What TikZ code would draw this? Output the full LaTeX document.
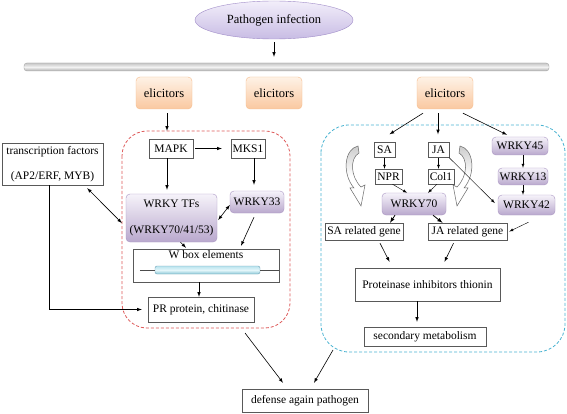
\documentclass[tikz,border=0pt]{standalone}
\usepackage{fontspec}
\setmainfont{Liberation Serif}
\usepackage{tikz}
\usetikzlibrary{calc,shapes,arrows}

\definecolor{redline}{RGB}{222,90,90}
\definecolor{blueline}{RGB}{75,180,210}
\definecolor{wrkytop}{RGB}{246,243,250}
\definecolor{wrkybot}{RGB}{185,168,205}
\definecolor{wrkyedge}{RGB}{170,150,195}
\definecolor{elictop}{RGB}{254,242,230}
\definecolor{elicbot}{RGB}{250,200,160}
\definecolor{elicedge}{RGB}{246,188,140}
\definecolor{inftop}{RGB}{242,238,250}
\definecolor{infbot}{RGB}{200,188,228}
\definecolor{infedge}{RGB}{160,140,200}
\definecolor{cyltop}{RGB}{185,228,238}
\definecolor{cylmid}{RGB}{228,246,250}
\definecolor{cylbot}{RGB}{140,200,215}

% hollow bent arrow next to the SA / JA branches
\newcommand{\turnarrow}{%
  \path[draw=black!60,line width=0.5pt,top color=gray!40,bottom color=white,middle color=white]
    (0,0) .. controls (-14,3) and (-16,28) .. (-4,42) -- (-8,42) -- (3,60)
    -- (7,39) -- (3,41) .. controls (-8,30) and (-8,12) .. (1,7) -- cycle;}

\begin{document}
\begin{tikzpicture}[x=1pt,y=-1pt,
    every node/.style={font=\fontsize{11.5}{13}\selectfont},
    plainbox/.style={draw=black!65,fill=white,inner sep=1pt},
    wrkybox/.style={draw=wrkyedge,rounded corners=4pt,top color=wrkytop,bottom color=wrkybot,inner sep=1pt},
    elicbox/.style={draw=elicedge,rounded corners=4pt,top color=elictop,bottom color=elicbot,minimum width=56,minimum height=32,font=\fontsize{12.5}{14}\selectfont},
    arr/.style={-latex,line width=0.6pt},
    thinarr/.style={-latex,line width=0.4pt},
    darr/.style={latex-latex,line width=0.6pt},
    zone/.style={line width=0.8pt,dash pattern=on 3pt off 2pt}]
    \path[use as bounding box,fill=white] (0,0) rectangle (567,414);

    % signal at the membrane
    \node[ellipse,draw=infedge,top color=inftop,bottom color=infbot,minimum width=158,minimum height=38,font=\fontsize{12.5}{14}\selectfont] (infect) at (274,20) {Pathogen infection};
    \node[draw=gray!70,rounded corners=3pt,top color=gray!45,bottom color=gray!65,middle color=gray!10,minimum width=525,minimum height=8,inner sep=0pt] (membrane) at (286.5,67) {};
    \draw[arr,shorten <=3pt,shorten >=6pt] (infect.south) -- (infect.south |- membrane.north);
    \node[elicbox] (elicA) at (164,93) {elicitors};
    \node[elicbox] (elicB) at (274,93) {elicitors};
    \node[elicbox] (elicC) at (445,93) {elicitors};

    % left branch
    \draw[zone,draw=redline,rounded corners=25pt] (122,131) rectangle (290,328);
    \node[plainbox,minimum width=101,minimum height=42,align=center] (tf) at (52.5,164) {transcription factors\\[12pt](AP2/ERF, MYB)};
    \node[plainbox,minimum width=44,minimum height=19] (mapk) at (171,148.5) {MAPK};
    \node[plainbox,minimum width=34,minimum height=19] (mks) at (248,148.5) {MKS1};
    \node[wrkybox,minimum width=91,minimum height=48,align=center] (wtf) at (171.5,218) {WRKY TFs\\[13pt](WRKY70/41/53)};
    \node[wrkybox,minimum width=54,minimum height=22] (w33) at (257,202) {WRKY33};
    \node[plainbox,minimum width=146,minimum height=33,label={[anchor=north,inner sep=2pt]north:W box elements}] (wbox) at (206,265.5) {};
    \node[draw=cyan!40!gray,rounded corners=2pt,top color=cyltop,bottom color=cylbot,middle color=cylmid,minimum width=105,minimum height=8,inner sep=0pt] (wcyl) at (207.5,270) {};
    \node[plainbox,minimum width=106,minimum height=25] (pr) at (201,309.5) {PR protein, chitinase};

    \draw[arr,shorten <=4pt,shorten >=8pt] ([xshift=3pt]elicA.south) -- ([xshift=3pt]elicA.south |- mapk.north);
    \draw[arr,shorten <=2pt,shorten >=9pt] (mapk) -- (mks);
    \draw[arr,shorten >=4pt] ([xshift=-4pt]mapk.south) -- ([xshift=-4pt]mapk.south |- wtf.north);
    \draw[arr,shorten >=6pt] ([xshift=6pt]mks.south) -- ([xshift=6pt]mks.south |- w33.north);
    \draw[darr] ($(tf.south east)+(-16,3)$) -- ($(wtf.west)+(-4,5)$);
    \draw[darr] ($(wtf.east)+(1,2)$) -- ($(w33.west)+(0,3)$);
    \draw[arr] ($(wtf.south)+(9,0)$) -- ($(wbox.north)+(-20,-1)$);
    \draw[arr] ($(w33.south)+(-3,4)$) -- ($(wbox.north)+(35,-3)$);
    \draw[black!70] ($(wbox.west |- wcyl)+(7,0)$) -- (wcyl.west);
    \draw[black!70] (wcyl.east) -- (wbox.east |- wcyl);
    \draw[arr] ([xshift=-2pt]pr.north |- wbox.south) -- ([xshift=-2pt]pr.north);
    \draw[arr,shorten >=6pt] ([xshift=-3.5pt]tf.south) |- (pr.west);

    % right branch
    \draw[zone,draw=blueline,rounded corners=28pt] (321,125) rectangle (565,352);
    \node[plainbox,minimum width=21,minimum height=15] (sa) at (384.5,150) {SA};
    \node[plainbox,minimum width=21,minimum height=15] (ja) at (438.5,150) {JA};
    \node[plainbox,minimum width=27,minimum height=15] (npr) at (388.5,176.5) {NPR};
    \node[plainbox,minimum width=26,minimum height=15] (col1) at (441,176.5) {Col1};
    \node[wrkybox,minimum width=64,minimum height=22] (w70) at (414,204) {WRKY70};
    \node[wrkybox,minimum width=56,minimum height=18] (w45) at (520,146) {WRKY45};
    \node[wrkybox,minimum width=50,minimum height=17] (w13) at (523,176.5) {WRKY13};
    \node[wrkybox,minimum width=57,minimum height=20] (w42) at (526.5,205) {WRKY42};
    \node[plainbox,minimum width=78,minimum height=17] (sarel) at (364,231.5) {SA related gene};
    \node[plainbox,minimum width=79,minimum height=17] (jarel) at (467.5,231.5) {JA related gene};
    \node[plainbox,minimum width=145,minimum height=33] (prot) at (427.5,284.5) {Proteinase inhibitors thionin};
    \node[plainbox,minimum width=122,minimum height=19] (sec) at (425,336.5) {secondary metabolism};

    \begin{scope}[shift={(358,146)}]
        \turnarrow
    \end{scope}
    \begin{scope}[shift={(460,146)},xscale=-1]
        \turnarrow
    \end{scope}

    \draw[arr] ($(elicC.south)+(-22,4)$) -- ($(sa.north)+(5,-8)$);
    \draw[arr] ($(elicC.south)+(-7,4)$) -- ($(ja.north)+(-0.5,-8)$);
    \draw[arr] ($(elicC.south)+(18,4)$) -- ($(w45.north)+(-13,-2)$);
    \draw[thinarr] (sa) -- (sa |- npr.north);
    \draw[thinarr] (ja) -- (ja |- col1.north);
    \draw[thinarr] ([xshift=4pt]npr.south) -- ([xshift=-7pt]w70.north);
    \draw[thinarr] ([xshift=-4pt]col1.south) -- ([xshift=14pt]w70.north);
    \draw[thinarr] (w13.north |- w45.south) -- (w13.north);
    \draw[thinarr] (w13.south) -- (w13.south |- w42.north);
    \draw[thinarr] (ja.south east) -- ([xshift=-3pt,yshift=2pt]w42.west);
    \draw[arr,thick] ([xshift=-19pt]w70.south) -- ([xshift=26pt]sarel.north);
    \draw[arr,thick] ([xshift=19pt]w70.south) -- ([xshift=-25pt]jarel.north);
    \draw[thinarr] ([xshift=2pt,yshift=-7pt]w42.south) -- ([xshift=2pt]jarel.east);
    \draw[arr] ([xshift=16pt,yshift=-3pt]sarel.south) -- ([xshift=-38pt,yshift=6pt]prot.north);
    \draw[arr] ([xshift=-14pt,yshift=-3pt]jarel.south) -- ([xshift=17pt,yshift=6pt]prot.north);
    \draw[arr,shorten >=5pt] ([xshift=-10.5pt]prot.south) -- ([xshift=-10.5pt]prot.south |- sec.north);

    % outcome
    \node[plainbox,minimum width=126,minimum height=23] (defense) at (305,400.5) {defense again pathogen};
    \coordinate (redout) at (245,333);
    \coordinate (blueout) at (333,350);
    \draw[arr] (redout) -- ([xshift=-22pt,yshift=6pt]defense.north);
    \draw[arr] (blueout) -- ([xshift=9pt,yshift=6pt]defense.north);
\end{tikzpicture}
\end{document}
